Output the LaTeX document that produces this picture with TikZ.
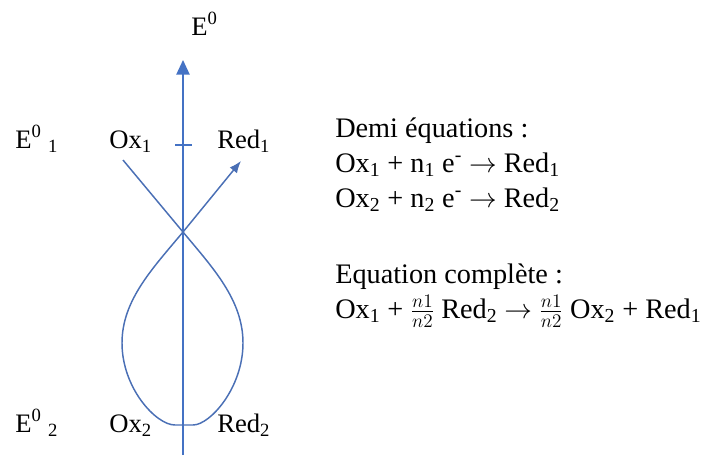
\documentclass[tikz,border=0pt]{standalone}
\usepackage{fontspec}
\setmainfont{Liberation Serif}
\usetikzlibrary{arrows.meta}
\definecolor{AxisBlue}{HTML}{4472C4}
\definecolor{CurveBlue}{HTML}{4A6FB5}
\tikzset{
  lbl/.style={anchor=base west,inner sep=0pt,
    font=\fontsize{20}{24}\selectfont},
  txt/.style={anchor=base west,inner sep=0pt,
    font=\fontsize{21.2}{25}\selectfont},
}
\newcommand{\nfrac}{$\frac{n1}{n2}$}
\begin{document}
\begin{tikzpicture}[x=0.75pt,y=-0.75pt]
        \useasboundingbox (0,0) rectangle (704,455);

        % labels of the axis
        \node[lbl] (e0) at (191,35) {E\textsuperscript{0}};
        \node[lbl] (e1) at (15,148) {E\textsuperscript{0} \textsubscript{1}};
        \node[lbl] (e2) at (15,432) {E\textsuperscript{0} \textsubscript{2}};
        \node[lbl] (ox1) at (109,148) {Ox\textsubscript{1}};
        \node[lbl] (red1) at (217,148) {Red\textsubscript{1}};
        \node[lbl] (ox2) at (109,432) {Ox\textsubscript{2}};
        \node[lbl] (red2) at (217,432) {Red\textsubscript{2}};

        % axis and tick
        \coordinate (base) at (183,455);
        \coordinate (top) at (183,60);
        \draw[AxisBlue,line width=1.1pt,
          -{Triangle[length=11pt,width=10pt]}] (base) -- (top);
        \draw[AxisBlue,line width=0.9pt] (175,145) -- (192,145);

        % curve
        \coordinate (start) at (123,160);
        \coordinate (cross) at (183,232);
        \coordinate (tip) at (241,161);
        \draw[CurveBlue,line width=1.1pt,
          -{Latex[length=9pt,width=7pt]}]
          (start) -- (cross)
          .. controls (213,268) and (243,300) .. (243,343)
          .. controls (243,388) and (210,425) .. (193,425)
          -- (175,425)
          .. controls (156,425) and (122,388) .. (122,343)
          .. controls (122,300) and (153,268) .. (cross)
          -- (tip);

        % equations
        \node[txt] (demi) at (335,137) {Demi équations :};
        \node[txt] (eqa) at (335,172)
          {Ox\textsubscript{1} + n\textsubscript{1} e\textsuperscript{-} $\rightarrow$ Red\textsubscript{1}};
        \node[txt] (eqb) at (335,207)
          {Ox\textsubscript{2} + n\textsubscript{2} e\textsuperscript{-} $\rightarrow$ Red\textsubscript{2}};
        \node[txt] (comp) at (335,283) {Equation complète :};
        \node[txt] (eqc) at (335,318)
          {Ox\textsubscript{1} + \nfrac\ Red\textsubscript{2} $\rightarrow$ \nfrac\ Ox\textsubscript{2} + Red\textsubscript{1}};
      \end{tikzpicture}
\end{document}
